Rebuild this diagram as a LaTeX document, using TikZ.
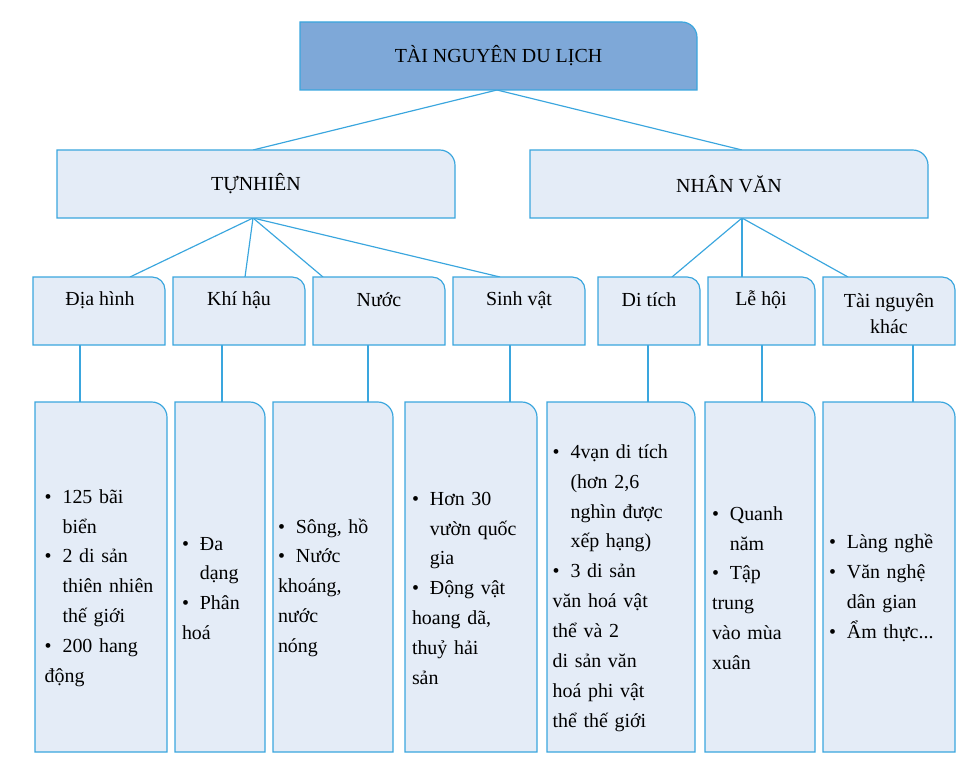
\documentclass[tikz,border=0pt]{standalone}
\usepackage{fontspec}
\setmainfont{Liberation Serif}
\usetikzlibrary{positioning}
\definecolor{edgeblue}{HTML}{3AA6DE}
\definecolor{lightfill}{HTML}{E4ECF7}
\definecolor{topfill}{HTML}{7EA8D8}
\tikzset{
  boxnode/.style={inner sep=0pt, outer sep=0pt, align=center, font=\fontsize{17}{22}\selectfont},
  boxline/.style={draw=edgeblue, line width=1pt, fill=lightfill},
  link/.style={draw=edgeblue, line width=1pt}
}
% box with rounded top-right corner: name, x1, y1, x2, y2, radius, text
\newcommand{\rbox}[8][lightfill]{%
  \node[boxnode, minimum width={(#4-#2)*0.03cm}, minimum height={(#5-#3)*0.03cm}]
    (#2) at ({(#3+#5)/2},{(#4+#6)/2}) {};
}
\newcommand{\bitem}[1]{\par\hangindent=0.9em\noindent\makebox[0.9em][l]{\textbullet}#1}
\newcommand{\tbox}[7][lightfill]{%
  \node[boxnode, minimum width={(#5-#3)*0.03cm}, minimum height={(#6-#4)*0.03cm}]
    (#2) at ({(#3+#5)/2},{(#4+#6)/2}) {};
  \draw[boxline, fill=#1] (#2.south west) -- (#2.north west) [rounded corners=#7] -- (#2.north east) [sharp corners] -- (#2.south east) -- cycle;
}
\begin{document}
\begin{tikzpicture}[x=0.03cm, y=-0.03cm]
  \useasboundingbox (0,0) rectangle (975,760);
  % connectors first
  \coordinate (topb) at (497,90);
  \coordinate (tnt) at (253,150);
  \coordinate (nvt) at (742,150);
  \coordinate (tnb) at (253,218);
  \coordinate (nvb) at (742,218);
  \foreach \x/\n in {130/dh, 245/kh, 323/nu, 500/sv, 672/dt, 742/lh, 848/tk} {
    \coordinate (\n t) at (\x,277);
  }
  \draw[link] (topb) -- (tnt);
  \draw[link] (topb) -- (nvt);
  \foreach \n in {dh, kh, nu, sv} \draw[link] (tnb) -- (\n t);
  \foreach \n in {dt, lh, tk} \draw[link] (nvb) -- (\n t);
  \foreach \x in {80, 222, 368, 510, 648, 762, 913} \draw[link] (\x,345) -- (\x,402);

  \tbox[topfill]{top}{300}{22}{697}{90}{13pt}
  \node[boxnode] at (top) {TÀI NGUYÊN DU LỊCH};
  \tbox{tn}{57}{150}{455}{218}{13pt}
  \node[boxnode] at (tn) {TỰNHIÊN};
  \tbox{nv}{530}{150}{928}{218}{13pt}
  \node[boxnode] at (nv) {NHÂN VĂN};

  \tbox{dh}{33}{277}{165}{345}{11pt}
  \node[boxnode] at (100,300) {Địa hình};
  \tbox{kh}{173}{277}{305}{345}{11pt}
  \node[boxnode] at (239,300) {Khí hậu};
  \tbox{nu}{313}{277}{445}{345}{11pt}
  \node[boxnode] at (379,300) {Nước};
  \tbox{sv}{453}{277}{585}{345}{11pt}
  \node[boxnode] at (519,300) {Sinh vật};
  \tbox{dt}{598}{277}{700}{345}{11pt}
  \node[boxnode] at (649,300) {Di tích};
  \tbox{lh}{708}{277}{815}{345}{11pt}
  \node[boxnode] at (761,300) {Lễ hội};
  \tbox{tk}{823}{277}{955}{345}{11pt}
  \node[boxnode] at (889,314) {Tài nguyên\\khác};

  \tbox{dhl}{35}{402}{167}{752}{13pt}
  \node[boxnode, text width=3.5cm, align=left, font=\fontsize{17}{25.5}\selectfont] at (103,580)
    {\bitem{125 bãi\newline biển}\bitem{2 di sản\newline thiên nhiên\newline thế giới}\bitem{200 hang\newline động}};
  \tbox{khl}{175}{402}{265}{752}{13pt}
  \node[boxnode, text width=2.4cm, align=left, font=\fontsize{17}{25.5}\selectfont] at (222,580)
    {\bitem{Đa\newline dạng}\bitem{Phân\newline hoá}};
  \tbox{nul}{273}{402}{393}{752}{13pt}
  \node[boxnode, text width=3.3cm, align=left, font=\fontsize{17}{25.5}\selectfont] at (333,580)
    {\bitem{Sông, hồ}\bitem{Nước\newline khoáng,\newline nước\newline nóng}};
  \tbox{svl}{405}{402}{537}{752}{13pt}
  \node[boxnode, text width=3.6cm, align=left, font=\fontsize{17}{25.5}\selectfont] at (472,580)
    {\bitem{Hơn 30\newline vườn quốc\newline gia}\bitem{Động vật\newline hoang dã,\newline thuỷ hải\newline sản}};
  \tbox{dtl}{547}{402}{695}{752}{13pt}
  \node[boxnode, text width=4.1cm, align=left, font=\fontsize{17}{25.5}\selectfont] at (621,580)
    {\bitem{4vạn di tích\newline (hơn 2,6\newline nghìn được\newline xếp hạng)}\bitem{3 di sản\newline văn hoá vật\newline thể và 2\newline di sản văn\newline hoá phi vật\newline thể thế giới}};
  \tbox{lhl}{705}{402}{815}{752}{13pt}
  \node[boxnode, text width=3cm, align=left, font=\fontsize{17}{25.5}\selectfont] at (762,580)
    {\bitem{Quanh\newline năm}\bitem{Tập\newline trung\newline vào mùa\newline xuân}};
  \tbox{tkl}{823}{402}{955}{752}{13pt}
  \node[boxnode, text width=3.6cm, align=left, font=\fontsize{17}{25.5}\selectfont] at (889,580)
    {\bitem{Làng nghề}\bitem{Văn nghệ\newline dân gian}\bitem{Ẩm thực...}};
\end{tikzpicture}
\end{document}
